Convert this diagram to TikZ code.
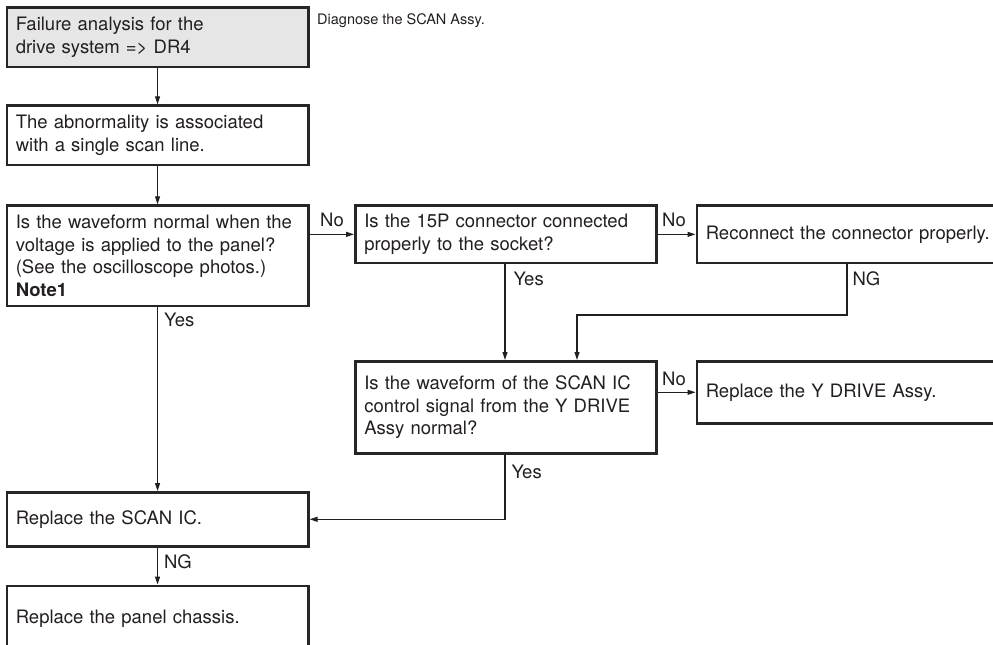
\documentclass[tikz,border=0pt]{standalone}
\usepackage{fontspec}
\setmainfont{TeX Gyre Heros}
\usepackage{tikz}
\usetikzlibrary{arrows.meta}
\usepackage{xcolor}
\definecolor{ServiceInk}{HTML}{231F20}
\definecolor{ServiceFrame}{HTML}{262626}
\definecolor{ServiceShade}{HTML}{E6E6E6}

\begin{document}
\begin{tikzpicture}[x=1pt, y=-1pt,
    stepbox/.style={draw=ServiceFrame, line width=2.6pt, fill=white, text=ServiceInk,
        anchor=north west, align=left, inner xsep=9pt, inner ysep=0pt,
        font=\fontsize{18.5}{22.6}\selectfont},
    link/.style={draw=ServiceInk, line width=1.1pt, -{Triangle[length=8pt, width=5pt]}},
    answer/.style={text=ServiceInk, inner sep=0pt, anchor=base west,
        font=\fontsize{18.5}{22}\selectfont},
    below answer/.style={answer, xshift=6pt, yshift=-21pt},
    side answer/.style={answer, yshift=8pt}]
    \useasboundingbox (0,0) rectangle (993,645);
    \clip (0,0) rectangle (993,645);

    % Left column
    \node[stepbox, fill=ServiceShade, text width=283.5pt, minimum height=59.5pt] (start) at (5.5,6.3)
        {Failure analysis for the\\drive system => DR4};
    \node[answer, font=\fontsize{14.5}{17}\selectfont] (scope) at (317,24) {Diagnose the SCAN Assy.};
    \node[stepbox, text width=283.5pt, minimum height=59.5pt] (single) at (5.5,104.3)
        {The abnormality is associated\\with a single scan line.};
    \node[stepbox, text width=283.5pt, minimum height=100.5pt] (wave) at (5.5,204.3)
        {Is the waveform normal when the\\voltage is applied to the panel?\\(See the oscilloscope photos.)\\\textbf{Note1}};
    \node[stepbox, text width=283.5pt, minimum height=54pt] (scanic) at (5.5,491)
        {Replace the SCAN IC.};
    \node[stepbox, text width=283.5pt, text height=37.5pt, text depth=50pt] (chassis) at (5.5,584.5)
        {Replace the panel chassis.};

    % Middle column
    \node[stepbox, text width=283pt, minimum height=57.5pt] (socket) at (354,204.3)
        {Is the 15P connector connected\\properly to the socket?};
    \node[stepbox, text width=283pt, minimum height=92pt] (control) at (354,360)
        {Is the waveform of the SCAN IC\\control signal from the Y DRIVE\\Assy normal?};

    % Right column
    \node[stepbox, text width=312pt, minimum height=57.5pt] (reconnect) at (695.5,204.3)
        {Reconnect the connector properly.};
    \node[stepbox, text width=312pt, minimum height=62pt] (ydrive) at (695.5,360)
        {Replace the Y DRIVE Assy.};

    % Routing points
    \coordinate (yescol) at (505,0);
    \coordinate (mergecol) at (577,0);
    \coordinate (ngbend) at (847,315);

    % Connectors
    \draw[link] (start.south) -- (single.north);
    \draw[link] (single.south) -- (wave.north);
    \draw[link] (socket.west -| wave.east) node[side answer, xshift=10pt] {No} -- (socket.west);
    \draw[link] (socket.east) node[side answer, xshift=4pt] {No} -- (reconnect.west);
    \draw[link] (socket.south -| yescol) node[below answer, xshift=2pt] {Yes} -- (control.north -| yescol);
    \draw[link] (reconnect.south -| ngbend) node[below answer, xshift=-1pt] {NG} -- (ngbend) -| (control.north -| mergecol);
    \draw[link] (ydrive.west -| control.east) node[side answer, xshift=4pt, yshift=-1pt] {No} -- (ydrive.west);
    \draw[link] (wave.south) node[below answer, yshift=2pt] {Yes} -- (scanic.north);
    \draw[link] (control.south -| yescol) node[below answer, yshift=-3pt] {Yes} |- (scanic.east);
    \draw[link] (scanic.south) node[below answer] {NG} -- (chassis.north);
\end{tikzpicture}
\end{document}
